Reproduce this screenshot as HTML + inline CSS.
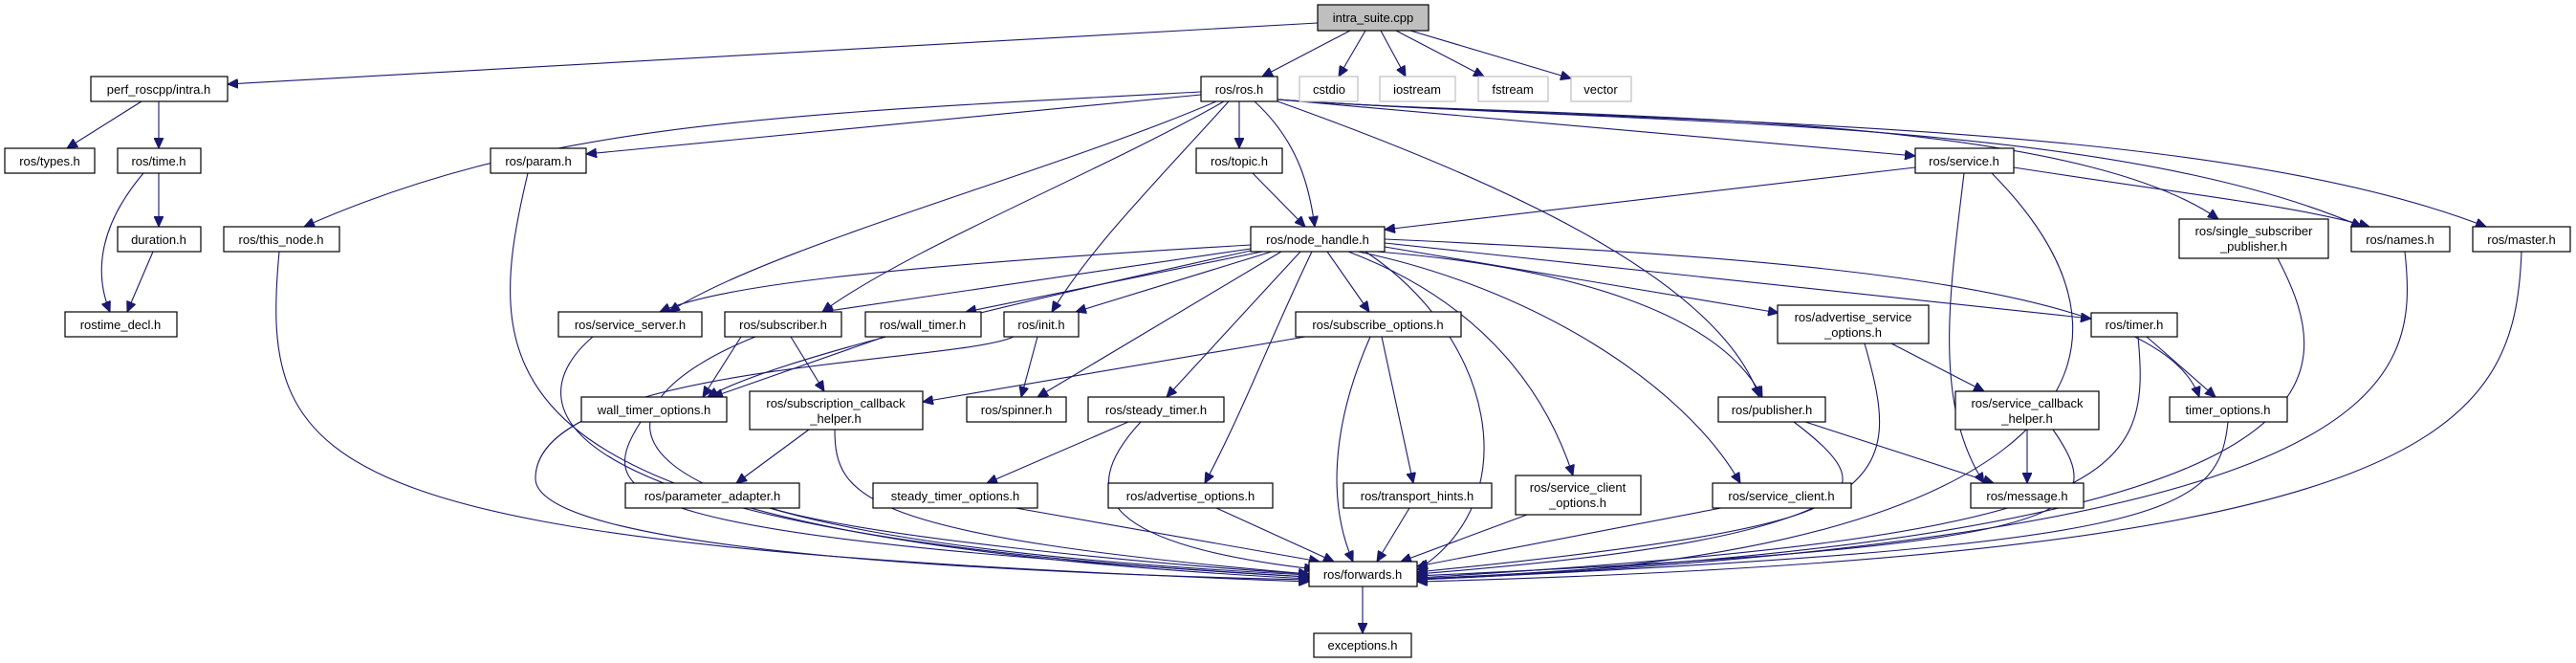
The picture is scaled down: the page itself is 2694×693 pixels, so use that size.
<!DOCTYPE html>
<html><head><meta charset="utf-8"><style>
html,body{margin:0;padding:0;background:#fff;}
svg{display:block;}
text{font-family:"Liberation Sans",sans-serif;font-size:13px;fill:#000;text-anchor:middle;}
.n{fill:#fff;stroke:#000;stroke-width:1.2;}
.g{fill:#fff;stroke:#bfbfbf;stroke-width:1.2;}
.e{fill:none;stroke:#191970;stroke-width:1.1;marker-end:url(#a);}
</style></head><body>
<svg width="2694" height="693" viewBox="0 0 2694 693" xmlns="http://www.w3.org/2000/svg">
<defs><marker id="a" markerUnits="userSpaceOnUse" markerWidth="12" markerHeight="10" refX="11" refY="5" orient="auto"><path d="M0,0 L11,5 L0,10 z" fill="#191970" stroke="#191970"/></marker></defs>
<g>
<path class="e" d="M1378,24 L238,88"/>
<path class="e" d="M1412,32 L1320,80"/>
<path class="e" d="M1428,32 L1400,80"/>
<path class="e" d="M1444,32 L1470,80"/>
<path class="e" d="M1460,32 L1552,80"/>
<path class="e" d="M1475,32 L1643,82"/>
<path class="e" d="M148,106 L70,155"/>
<path class="e" d="M166,106 L166,155"/>
<path class="e" d="M166,181 L166,237"/>
<path class="e" d="M150,181 C100,240 100,290 115,326"/>
<path class="e" d="M160,263 L133,326"/>
<path class="e" d="M1256,96 C800,120 560,130 318,237"/>
<path class="e" d="M1256,99 L613,161"/>
<path class="e" d="M1272,106 C1100,180 800,260 700,326"/>
<path class="e" d="M1280,106 C1150,180 950,260 860,326"/>
<path class="e" d="M1285,106 C1200,200 1140,260 1100,326"/>
<path class="e" d="M1296,106 L1296,155"/>
<path class="e" d="M1312,106 C1360,150 1370,200 1375,237"/>
<path class="e" d="M1336,106 C1600,200 1800,300 1840,415"/>
<path class="e" d="M1336,104 L2003,163"/>
<path class="e" d="M1336,104 C1600,125 2150,110 2320,229"/>
<path class="e" d="M1336,104 C1700,130 2200,120 2470,237"/>
<path class="e" d="M1336,104 C1700,130 2300,120 2600,237"/>
<path class="e" d="M1310,181 L1365,237"/>
<path class="e" d="M2003,175 L1448,240"/>
<path class="e" d="M2106,175 C2300,205 2400,215 2478,237"/>
<path class="e" d="M2054,181 C2040,300 2020,420 2075,505"/>
<path class="e" d="M2083,181 C2300,400 2100,590 1482,605"/>
<path class="e" d="M2382,270 C2450,400 2470,560 1482,605"/>
<path class="e" d="M2515,263 C2530,400 2510,560 1482,606"/>
<path class="e" d="M2637,263 C2630,450 2550,580 1482,608"/>
<path class="e" d="M552,181 C500,400 500,560 1369,605"/>
<path class="e" d="M292,263 C270,500 330,570 1369,608"/>
<path class="e" d="M1308,256 C900,280 750,300 690,326"/>
<path class="e" d="M1308,260 L860,326"/>
<path class="e" d="M1320,263 L1010,326"/>
<path class="e" d="M1330,263 L1125,326"/>
<path class="e" d="M1340,263 L1085,415"/>
<path class="e" d="M1360,263 L1220,415"/>
<path class="e" d="M1372,263 C1330,350 1300,430 1260,505"/>
<path class="e" d="M1388,263 L1432,326"/>
<path class="e" d="M1410,263 C1560,320 1620,420 1645,497"/>
<path class="e" d="M1420,263 C1600,300 1760,400 1820,505"/>
<path class="e" d="M1440,263 C1650,280 1800,330 1843,415"/>
<path class="e" d="M1448,258 L1860,327"/>
<path class="e" d="M1448,254 L2187,333"/>
<path class="e" d="M1448,250 C1900,270 2260,300 2300,415"/>
<path class="e" d="M1428,263 C1560,350 1600,520 1482,596"/>
<path class="e" d="M1308,262 C1000,330 800,380 740,415"/>
<path class="e" d="M827,352 L862,409"/>
<path class="e" d="M775,352 L735,415"/>
<path class="e" d="M790,352 C620,420 540,560 1369,601"/>
<path class="e" d="M620,352 C540,420 540,560 1369,603"/>
<path class="e" d="M925,352 L745,415"/>
<path class="e" d="M1085,352 L1068,415"/>
<path class="e" d="M1060,352 C1000,380 560,380 560,500 C560,580 1100,600 1369,606"/>
<path class="e" d="M1365,352 L965,420"/>
<path class="e" d="M1433,352 C1390,450 1390,530 1415,587"/>
<path class="e" d="M1445,352 L1478,505"/>
<path class="e" d="M1180,441 L1032,505"/>
<path class="e" d="M1193,441 C1120,520 1160,570 1375,595"/>
<path class="e" d="M670,441 C620,520 640,560 1369,603"/>
<path class="e" d="M846,449 L770,505"/>
<path class="e" d="M873,449 C873,520 900,560 1369,600"/>
<path class="e" d="M806,531 C900,560 1200,590 1369,600"/>
<path class="e" d="M1062,531 L1380,587"/>
<path class="e" d="M1272,531 L1395,587"/>
<path class="e" d="M1474,531 L1440,587"/>
<path class="e" d="M1597,538 L1465,587"/>
<path class="e" d="M1800,531 L1482,592"/>
<path class="e" d="M1888,441 L2085,505"/>
<path class="e" d="M1876,441 C1980,520 1960,550 1482,598"/>
<path class="e" d="M1978,359 L2075,409"/>
<path class="e" d="M1950,359 C1990,500 1990,560 1482,600"/>
<path class="e" d="M2120,449 L2120,505"/>
<path class="e" d="M2147,449 C2210,540 2180,570 1482,602"/>
<path class="e" d="M2245,352 L2317,415"/>
<path class="e" d="M2236,352 C2250,500 2220,560 1482,604"/>
<path class="e" d="M2330,441 C2320,540 2260,570 1482,606"/>
<path class="e" d="M1425,613 L1425,662"/>
</g>
<g>
<rect x="1378" y="5" width="116" height="27" fill="#bfbfbf" stroke="#000" stroke-width="1.2"/><text x="1436" y="23">intra_suite.cpp</text>
<rect class="n" x="95" y="80" width="143" height="26"/><text x="166" y="98">perf_roscpp/intra.h</text>
<rect class="n" x="1256" y="80" width="80" height="26"/><text x="1296" y="98">ros/ros.h</text>
<rect class="g" x="1359" y="80" width="61" height="26"/><text x="1390" y="98">cstdio</text>
<rect class="g" x="1443" y="80" width="79" height="26"/><text x="1482" y="98">iostream</text>
<rect class="g" x="1546" y="80" width="73" height="26"/><text x="1582" y="98">fstream</text>
<rect class="g" x="1643" y="80" width="63" height="26"/><text x="1674" y="98">vector</text>
<rect class="n" x="5" y="155" width="94" height="26"/><text x="52" y="173">ros/types.h</text>
<rect class="n" x="123" y="155" width="87" height="26"/><text x="166" y="173">ros/time.h</text>
<rect class="n" x="513" y="155" width="100" height="26"/><text x="563" y="173">ros/param.h</text>
<rect class="n" x="1251" y="155" width="90" height="26"/><text x="1296" y="173">ros/topic.h</text>
<rect class="n" x="2003" y="155" width="103" height="26"/><text x="2054" y="173">ros/service.h</text>
<rect class="n" x="123" y="237" width="87" height="26"/><text x="166" y="255">duration.h</text>
<rect class="n" x="234" y="237" width="121" height="26"/><text x="294" y="255">ros/this_node.h</text>
<rect class="n" x="1308" y="237" width="140" height="26"/><text x="1378" y="255">ros/node_handle.h</text>
<rect class="n" x="2279" y="229" width="156" height="41"/><text x="2357" y="246">ros/single_subscriber</text><text x="2357" y="262">_publisher.h</text>
<rect class="n" x="2459" y="237" width="103" height="26"/><text x="2510" y="255">ros/names.h</text>
<rect class="n" x="2586" y="237" width="102" height="26"/><text x="2637" y="255">ros/master.h</text>
<rect class="n" x="68" y="326" width="117" height="26"/><text x="126" y="344">rostime_decl.h</text>
<rect class="n" x="584" y="326" width="150" height="26"/><text x="659" y="344">ros/service_server.h</text>
<rect class="n" x="758" y="326" width="122" height="26"/><text x="819" y="344">ros/subscriber.h</text>
<rect class="n" x="905" y="326" width="121" height="26"/><text x="965" y="344">ros/wall_timer.h</text>
<rect class="n" x="1050" y="326" width="78" height="26"/><text x="1089" y="344">ros/init.h</text>
<rect class="n" x="1355" y="326" width="173" height="26"/><text x="1441" y="344">ros/subscribe_options.h</text>
<rect class="n" x="1859" y="319" width="158" height="40"/><text x="1938" y="336">ros/advertise_service</text><text x="1938" y="352">_options.h</text>
<rect class="n" x="2187" y="327" width="90" height="25"/><text x="2232" y="344">ros/timer.h</text>
<rect class="n" x="608" y="415" width="152" height="26"/><text x="684" y="433">wall_timer_options.h</text>
<rect class="n" x="784" y="409" width="181" height="40"/><text x="874" y="426">ros/subscription_callback</text><text x="874" y="442">_helper.h</text>
<rect class="n" x="1011" y="415" width="104" height="26"/><text x="1063" y="433">ros/spinner.h</text>
<rect class="n" x="1138" y="415" width="142" height="26"/><text x="1209" y="433">ros/steady_timer.h</text>
<rect class="n" x="1797" y="415" width="112" height="26"/><text x="1853" y="433">ros/publisher.h</text>
<rect class="n" x="2045" y="409" width="150" height="40"/><text x="2120" y="426">ros/service_callback</text><text x="2120" y="442">_helper.h</text>
<rect class="n" x="2269" y="415" width="123" height="26"/><text x="2330" y="433">timer_options.h</text>
<rect class="n" x="654" y="505" width="182" height="26"/><text x="745" y="523">ros/parameter_adapter.h</text>
<rect class="n" x="913" y="505" width="172" height="26"/><text x="999" y="523">steady_timer_options.h</text>
<rect class="n" x="1159" y="505" width="172" height="26"/><text x="1245" y="523">ros/advertise_options.h</text>
<rect class="n" x="1405" y="505" width="155" height="26"/><text x="1482" y="523">ros/transport_hints.h</text>
<rect class="n" x="1585" y="497" width="131" height="41"/><text x="1650" y="514">ros/service_client</text><text x="1650" y="530">_options.h</text>
<rect class="n" x="1791" y="505" width="145" height="26"/><text x="1863" y="523">ros/service_client.h</text>
<rect class="n" x="2061" y="505" width="118" height="26"/><text x="2120" y="523">ros/message.h</text>
<rect class="n" x="1369" y="587" width="113" height="26"/><text x="1425" y="605">ros/forwards.h</text>
<rect class="n" x="1374" y="662" width="102" height="25"/><text x="1425" y="679">exceptions.h</text>
</g>
</svg>
</body></html>
